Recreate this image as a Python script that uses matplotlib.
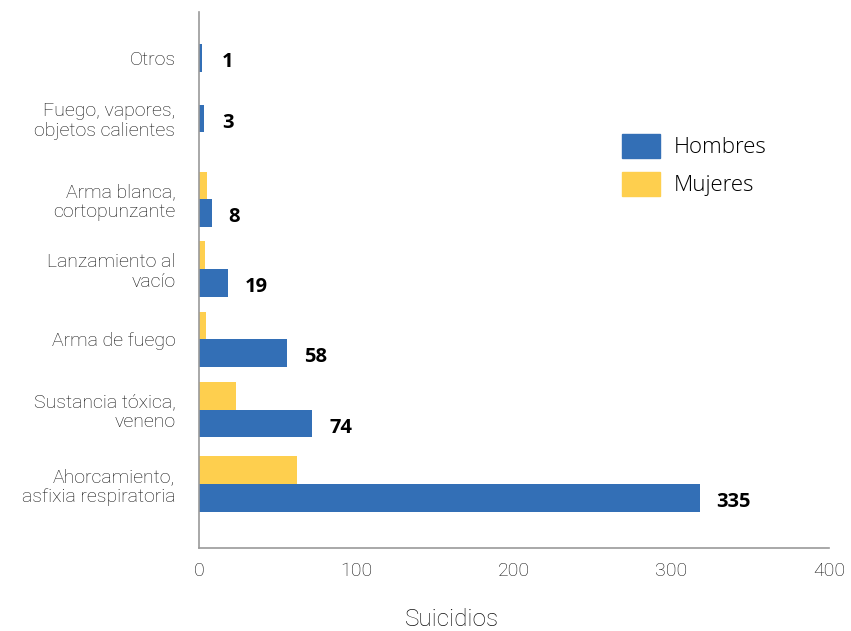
import matplotlib.pyplot as plt
from matplotlib.patches import Patch

# categorias de abajo hacia arriba
categorias = ['Ahorcamiento,\nasfixia respiratoria', 'Sustancia tóxica,\nveneno', 'Arma de fuego',
              'Lanzamiento al\nvacío', 'Arma blanca,\ncortopunzante', 'Fuego, vapores,\nobjetos calientes', 'Otros']
hombres = [318, 72, 56, 18.5, 8.3, 3, 2]          # largo de barra
hombres_etiqueta = ['335', '74', '58', '19', '8', '3', '1']
mujeres = [62, 23.5, 4.5, 4, 4.8, 0, 0]
posiciones = [0, 1.05, 2.04, 3.03, 4.01, 5.15, 6.0]

azul = '#336fb6'
amarillo = '#fecf4e'
gris = '#9a9a9a'
texto = '#111111'

plt.rcParams['font.family'] = ['Roboto', 'DejaVu Sans']
plt.rcParams['font.weight'] = 'light'

fig = plt.figure(figsize=(8.51, 6.31), dpi=100)
ax = fig.add_axes([199/851, 83/631, 630/851, 536/631])

h = 0.39
for i, y in enumerate(posiciones):
    if mujeres[i] > 0:
        ax.barh(y + h/2, mujeres[i], height=h, color=amarillo)
        yh = y - h/2
    else:
        yh = y
    ax.barh(yh, hombres[i], height=h, color=azul)
    ax.annotate(hombres_etiqueta[i], (max(hombres[i], 4), yh), xytext=(12, -3), textcoords='offset points',
                va='center', ha='left', fontsize=14.5, fontweight='bold', family='Open Sans', color='black')

ax.set_xlim(0, 400)
ax.set_ylim(-0.90, 6.65)
ax.set_xticks([0, 100, 200, 300, 400])
ax.set_yticks(posiciones)
ax.set_yticklabels(categorias, fontsize=14, color=texto, fontweight='light', linespacing=1.12)
for lbl in ax.get_xticklabels():
    lbl.set_fontweight('light')
ax.tick_params(axis='x', length=0, pad=10, labelsize=14, labelcolor=texto)
ax.tick_params(axis='y', length=0, pad=17)

for s in ['top', 'right']:
    ax.spines[s].set_visible(False)
for s in ['left', 'bottom']:
    ax.spines[s].set_color(gris)
    ax.spines[s].set_linewidth(1.2)

fig.text(452/851, 1 - 620/631, 'Suicidios', ha='center', va='center', fontsize=17.5,
         fontweight='light', color=texto)

handles = [Patch(color=azul, label='Hombres'), Patch(color=amarillo, label='Mujeres')]
ax.legend(handles=handles, loc='upper left', bbox_to_anchor=(0.64, 0.81), frameon=False,
          handlelength=1.7, handleheight=1.3, handletextpad=0.6, labelspacing=0.6,
          prop={'family': 'Open Sans', 'size': 16, 'weight': 'light'})

fig.savefig('out.png', dpi=100)
